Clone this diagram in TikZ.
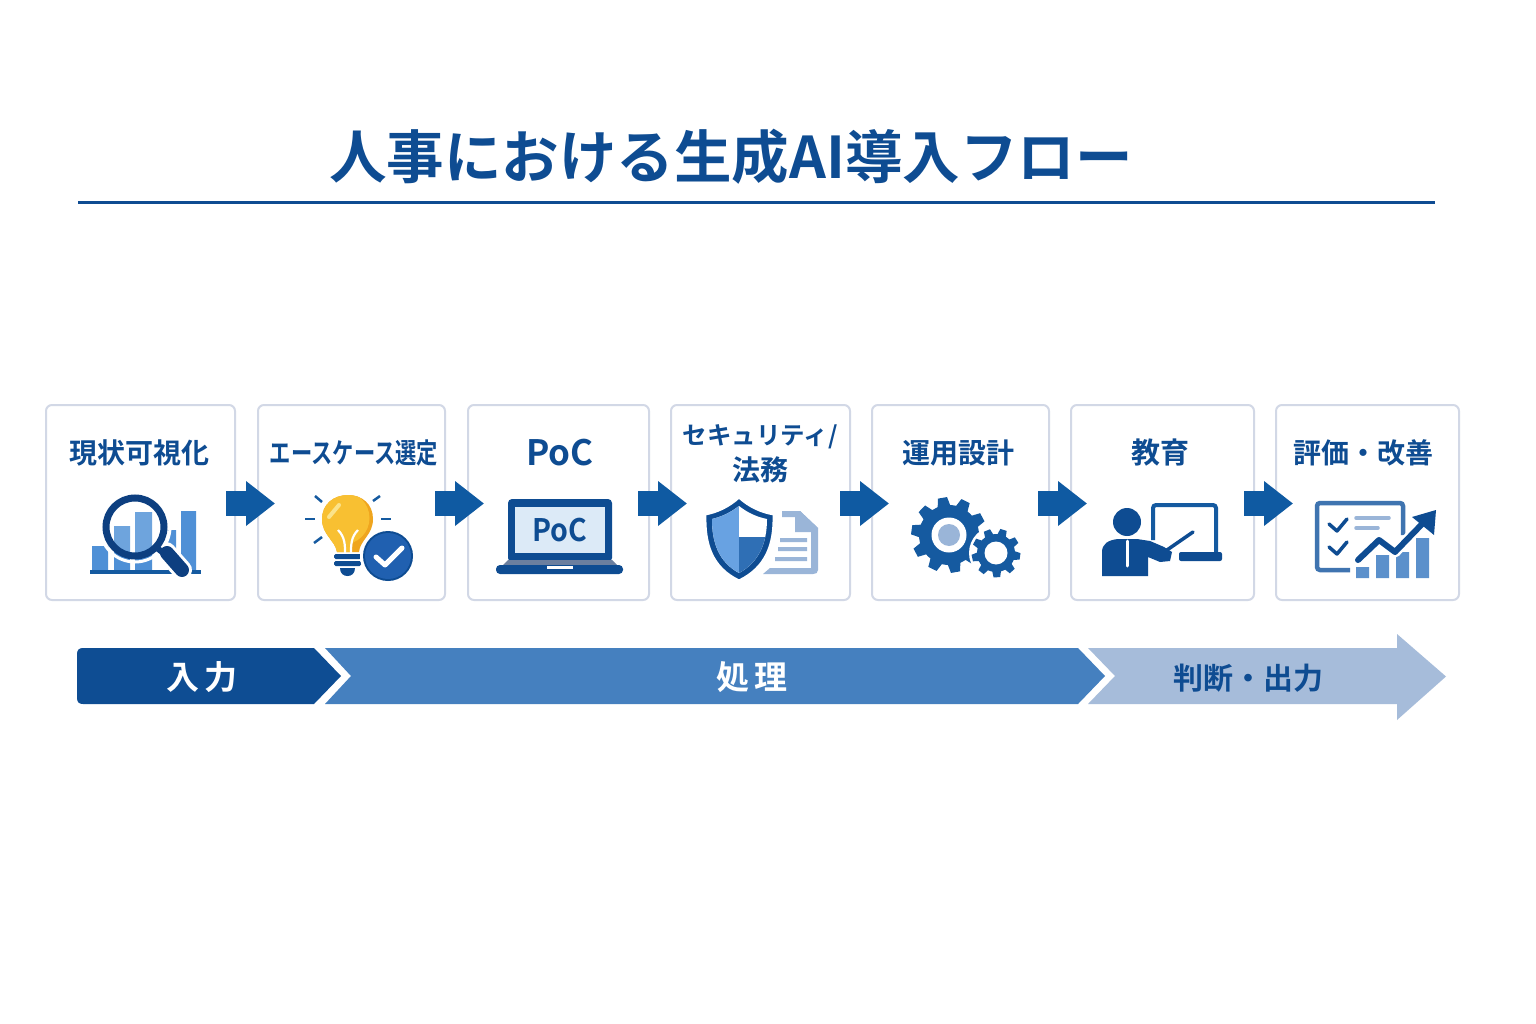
\documentclass[tikz,border=0pt]{standalone}
\usepackage{fontspec}
\usepackage{graphicx}
\setmainfont{Noto Sans CJK JP}[BoldFont={Noto Sans CJK JP Bold}]
\usetikzlibrary{arrows.meta}
\definecolor{navy}{HTML}{0E4C92}
\definecolor{deepnavy}{HTML}{0D3F80}
\definecolor{flowblue}{HTML}{0F5AA2}
\definecolor{boxline}{HTML}{D2D8E6}
\definecolor{barblue}{HTML}{4F90D6}
\definecolor{midband}{HTML}{4580BF}
\definecolor{lightband}{HTML}{A6BCDA}
\definecolor{softblue}{HTML}{9AB5D8}
\definecolor{gearblue}{HTML}{155AA0}
\definecolor{chartblue}{HTML}{5B90CB}
\definecolor{bulbmain}{HTML}{F8C032}
\definecolor{bulbdark}{HTML}{EFA51E}
\definecolor{bulblight}{HTML}{FBE38A}
\definecolor{badgeblue}{HTML}{2060B0}
\definecolor{screenblue}{HTML}{DCEAF7}
\definecolor{shieldblue}{HTML}{68A2E2}
\definecolor{shielddark}{HTML}{2F6FB5}
\definecolor{framegray}{HTML}{3F74B0}
\definecolor{hingegray}{HTML}{6B7F9F}
\newcommand{\px}[1]{\fontsize{#1}{#1}\selectfont}
\newcommand{\drawgear}[5]{%
  \fill[gearblue] (#1,#2) circle (#4);
  \foreach \k in {1,...,#5}{
    \pgfmathsetmacro\aa{360*\k/#5+8}
    \pgfmathsetmacro\wa{130/#5}
    \pgfmathsetmacro\wb{70/#5}
    \fill[gearblue] ([shift={(#1,#2)}]\aa-\wa:#4-1) -- ([shift={(#1,#2)}]\aa-\wb:#3) -- ([shift={(#1,#2)}]\aa+\wb:#3) -- ([shift={(#1,#2)}]\aa+\wa:#4-1) -- cycle;
  }
}
\tikzset{
  stepbox/.style={draw=boxline,line width=2pt,rounded corners=6pt,fill=white,minimum height=195pt,inner sep=0pt,outer sep=0pt},
  steplabel/.style={text=navy,font=\bfseries\px{28},align=center,inner sep=0pt},
  flowarrow/.style={draw=flowblue,line width=25pt,-{Triangle[length=29pt,width=43pt]}},
  bandlabel/.style={font=\bfseries\px{33},inner sep=0pt}
}
\begin{document}
\begin{tikzpicture}[x=1pt,y=-1pt]
\useasboundingbox (0,0) rectangle (1536,1024);
\fill[white] (0,0) rectangle (1536,1024);
% title
\node[text=navy,font=\bfseries\px{57.5},inner sep=0pt] (title) at (731,157) {人事における生成AI導入フロー};
\coordinate (ruleL) at (78,203);
\coordinate (ruleR) at (1435,203);
\draw[navy,line width=3pt] (ruleL) -- (ruleR);
% boxes
\node[stepbox,minimum width=189pt] (b1) at (140.5,502.5) {};
\node[stepbox,minimum width=187pt] (b2) at (351.5,502.5) {};
\node[stepbox,minimum width=181pt] (b3) at (558.5,502.5) {};
\node[stepbox,minimum width=179pt] (b4) at (760.5,502.5) {};
\node[stepbox,minimum width=177pt] (b5) at (960.5,502.5) {};
\node[stepbox,minimum width=183pt] (b6) at (1162.5,502.5) {};
\node[stepbox,minimum width=183pt] (b7) at (1367.5,502.5) {};
% labels
\node[steplabel] (l1) at (139,453) {現状可視化};
\node[steplabel] (l2) at (354,453) {\scalebox{0.76}[1]{エースケース選定}};
\node[steplabel,font=\bfseries\px{35}] (l3) at (560,453) {PoC};
\node[steplabel] (l4a) at (760,437) {\px{24.5}セキュリティ/};
\node[steplabel] (l4b) at (760,470) {法務};
\node[steplabel] (l5) at (958,453) {運用設計};
\node[steplabel,font=\bfseries\px{29}] (l6) at (1160,453) {教育};
\node[steplabel] (l7) at (1363,453) {評価・改善};
% arrows
\draw[flowarrow] ([xshift=-9pt,yshift=-1pt]b1.east) -- ([xshift=17pt,yshift=-1pt]b2.west);
\draw[flowarrow] ([xshift=-10pt,yshift=-1pt]b2.east) -- ([xshift=16pt,yshift=-1pt]b3.west);
\draw[flowarrow] ([xshift=-11pt,yshift=-1pt]b3.east) -- ([xshift=16pt,yshift=-1pt]b4.west);
\draw[flowarrow] ([xshift=-10pt,yshift=-1pt]b4.east) -- ([xshift=17pt,yshift=-1pt]b5.west);
\draw[flowarrow] ([xshift=-11pt,yshift=-1pt]b5.east) -- ([xshift=16pt,yshift=-1pt]b6.west);
\draw[flowarrow] ([xshift=-10pt,yshift=-1pt]b6.east) -- ([xshift=17pt,yshift=-1pt]b7.west);
% icon 1: chart + magnifier
\fill[barblue] (92,546) rectangle (108,571) (114,526) rectangle (130,571) (135,512) rectangle (152,571) (168,530) rectangle (176,571) (181,511) rectangle (196,571);
\fill[gearblue] (90,570) rectangle (201,574);
\fill[white,opacity=.18] (135,527) circle (29);
\draw[white,line width=20pt,line cap=round] (166,552) -- (182,570);
\draw[white,line width=3pt] (135,527) circle (35);
\draw[deepnavy,line width=7pt] (135,527) circle (29);
\draw[deepnavy,line width=6pt] (157,548) -- (166,555);
\draw[deepnavy,line width=14pt,line cap=round] (167,553) -- (182,570);
% icon 2: bulb + check
\begin{scope}
\clip (337,552) .. controls (335,540) and (322,535) .. (322,519) .. controls (322,504) and (334,495) .. (348,495) .. controls (362,495) and (373,504) .. (373,519) .. controls (373,535) and (360,540) .. (359,552) -- cycle;
\fill[bulbdark] (315,490) rectangle (380,556);
\fill[bulbmain] (343,518) circle (26.5);
\fill[bulbmain] (330,535) rectangle (352,556);
\end{scope}
\draw[bulblight,line width=4pt,line cap=round] (339,505) -- (329,517);
\draw[white,line width=2.2pt] (338,530) .. controls (345,537) and (345,545) .. (345,553);
\draw[white,line width=2.2pt] (358,530) .. controls (351,537) and (351,545) .. (351,553);
\fill[navy,rounded corners=1.5pt] (334,554) rectangle (361,559);
\fill[navy,rounded corners=1.5pt] (334,561) rectangle (361,566);
\fill[navy] (340,568) -- (355,568) .. controls (355,574) and (351,576) .. (347.5,576) .. controls (344,576) and (340,574) .. (340,568) -- cycle;
\foreach \a/\b/\c/\d in {315/496/322/502,305/519/315/519,314/543/322/537,380/496/373/501,381/519/391/519}
  \draw[gearblue,line width=2.5pt] (\a,\b) -- (\c,\d);
\fill[white] (388,556) circle (28);
\fill[navy] (388,556) circle (25);
\fill[badgeblue] (388,556) circle (23);
\draw[white,line width=5pt,line cap=round,line join=round] (376,557) -- (385,565) -- (402,548);
% icon 3: laptop
\fill[navy,rounded corners=4pt] (508,499) rectangle (612,562);
\fill[screenblue] (515,507) rectangle (605,553);
\node[text=navy,font=\bfseries\px{31},inner sep=0pt] (poc) at (560,530) {\scalebox{0.92}[1]{PoC}};
\fill[hingegray] (508,560) -- (612,560) -- (618,566) -- (502,566) -- cycle;
\fill[navy,rounded corners=4pt] (496,565) rectangle (623,574);
\fill[white] (547,566) rectangle (573,569);
% icon 4: shield + doc
\fill[softblue] (782,511) -- (800,511) -- (818,528) -- (818,570) .. controls (818,573) and (816,574) .. (813,574) -- (763,574) -- (770,568) -- (811,568) -- (811,532) -- (795,532) -- (795,517) -- (782,517) -- cycle;
\fill[softblue] (800,511) -- (818,528) -- (800,528) -- cycle;
\fill[softblue] (780,538) rectangle (807,542) (778,547) rectangle (807,551) (775,557) rectangle (807,561);
\filldraw[fill=navy,draw=white,line width=3pt] (739,497) .. controls (728,507) and (716,512) .. (705,514) .. controls (704,545) and (712,568) .. (739,581) .. controls (766,568) and (775,545) .. (774,514) .. controls (762,512) and (750,507) .. (739,497) -- cycle;
\begin{scope}
\clip (739,506) .. controls (730,513) and (721,517) .. (712,519) .. controls (712,543) and (719,562) .. (739,573) .. controls (759,562) and (767,543) .. (767,519) .. controls (757,517) and (748,513) .. (739,506) -- cycle;
\fill[white] (700,495) rectangle (780,585);
\fill[shieldblue] (700,495) rectangle (739,585);
\fill[shielddark] (739,537) rectangle (780,585);
\end{scope}
% icon 5: gears
\drawgear{949}{535}{38}{30}{10}
\fill[white] (949,535) circle (17.5);
\fill[softblue] (949,535) circle (11);
\fill[white] (996,553) circle (27);
\drawgear{996}{553}{24.5}{19}{9}
\fill[white] (996,553) circle (11.5);
% icon 6: presenter
\draw[gearblue,line width=4pt,rounded corners=3pt] (1153,540) -- (1153,505) -- (1216,505) -- (1216,552);
\fill[navy,rounded corners=2pt] (1179,552) rectangle (1222,561);
\draw[navy,line width=3.5pt,line cap=round] (1167,550) -- (1193,532);
\fill[navy] (1127,522) circle (14);
\fill[navy] (1102,576) -- (1102,552) .. controls (1102,544) and (1108,540) .. (1118,539) -- (1137,539) -- (1150,541) -- (1164,547) -- (1172,552) -- (1170,561) -- (1160,562) -- (1148,557) -- (1148,576) -- cycle;
\draw[white,line width=3pt,line cap=round] (1127,541) -- (1127,566);
% icon 7: checklist + chart
\draw[framegray,line width=4.5pt,rounded corners=3pt] (1350,570) -- (1317,570) -- (1317,503) -- (1403,503) -- (1403,535);
\draw[navy,line width=3.5pt,line cap=round,line join=round] (1329,524) -- (1337,531) -- (1347,519);
\draw[navy,line width=3.5pt,line cap=round,line join=round] (1329,547) -- (1337,554) -- (1347,542);
\draw[softblue,line width=3.5pt,line cap=round] (1356,518) -- (1389,518);
\draw[softblue,line width=3.5pt,line cap=round] (1356,528) -- (1378,528);
\fill[chartblue] (1356,567) rectangle (1369,578) (1376,555) rectangle (1389,578) (1396,552) rectangle (1409,578) (1416,538) rectangle (1429,578);
\draw[white,line width=11pt,line join=round,line cap=round] (1358,560) -- (1379,540) -- (1395,552) -- (1424,522);
\draw[navy,line width=6pt,line join=round,line cap=round] (1358,560) -- (1379,540) -- (1395,552) -- (1424,522);
\fill[navy] (1436,510) -- (1412,517) -- (1434,535) -- cycle;
% progress band
\fill[navy!95!flowblue] (83,648) -- (314,648) -- (341,676) -- (314,704) -- (83,704) .. controls (79,704) and (77,702) .. (77,698) -- (77,654) .. controls (77,650) and (79,648) .. (83,648) -- cycle;
\fill[midband] (325,648) -- (1078,648) -- (1105,676) -- (1078,704) -- (325,704) -- (351,676) -- cycle;
\fill[lightband] (1088,648) -- (1397,648) -- (1397,634) -- (1446,676.5) -- (1397,720) -- (1397,704) -- (1088,704) -- (1115,676) -- cycle;
\node[bandlabel,text=white] (input) at (202,677) {入\hspace{6pt}力};
\node[bandlabel,text=white] (proc) at (752,677) {処\hspace{6pt}理};
\node[bandlabel,text=navy,font=\bfseries\px{30}] (out) at (1248,678) {判断・出力};
\end{tikzpicture}
\end{document}
